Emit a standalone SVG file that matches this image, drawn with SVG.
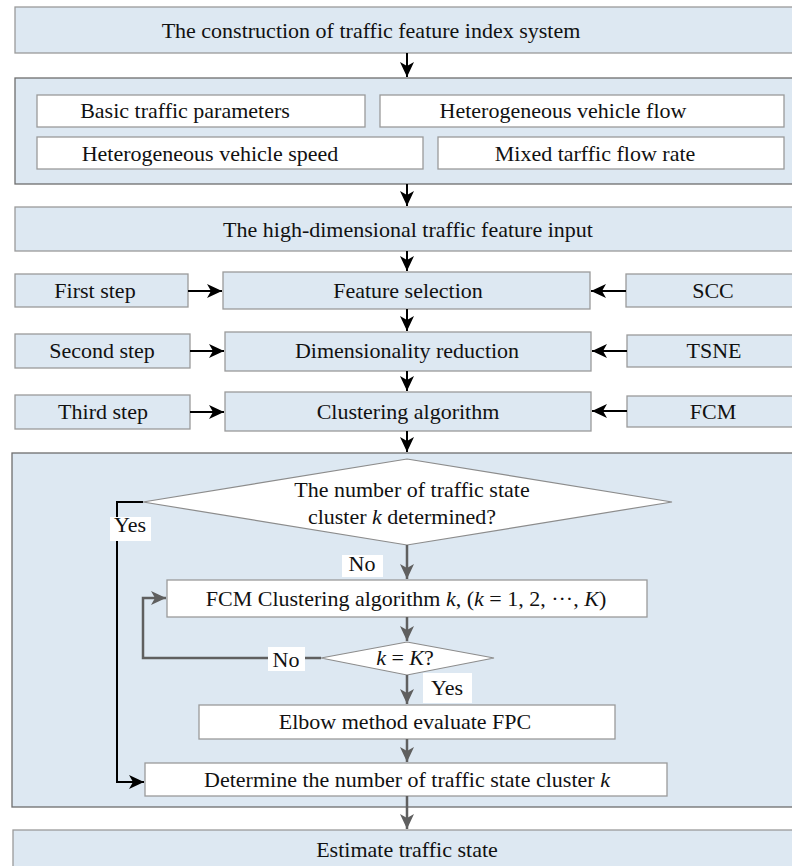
<svg xmlns="http://www.w3.org/2000/svg" width="792" height="866" viewBox="0 0 792 866">
<style>
text{font-family:"Liberation Serif","Times New Roman",serif;font-size:22px;fill:#111;text-anchor:middle}
.b{fill:#dde8f2;stroke:#9a9a9a;stroke-width:1.3}
.c{fill:#dde8f2;stroke:#6e6e6e;stroke-width:1.3}
.w{fill:#fff;stroke:#9a9a9a;stroke-width:1.3}
.k{stroke:#000;stroke-width:2;fill:none}
.g{stroke:#5f5f5f;stroke-width:2.5;fill:none}
.lab{fill:#fff;stroke:none}
</style>
<defs>
<marker id="ab" markerUnits="userSpaceOnUse" markerWidth="16" markerHeight="16" viewBox="0 0 16 16" refX="15" refY="8" orient="auto">
<path d="M0,1 L15,8 L0,15 L4,8 z" fill="#000"/>
</marker>
<marker id="ag" markerUnits="userSpaceOnUse" markerWidth="16" markerHeight="16" viewBox="0 0 16 16" refX="15" refY="8" orient="auto">
<path d="M0,1 L15,8 L0,15 L4,8 z" fill="#5f5f5f"/>
</marker>
</defs>

<g id="n_construction"><rect class="b" x="15" y="7" width="790" height="46"/><text x="371" y="38">The construction of traffic feature index system</text></g>

<g id="n_features"><rect class="c" x="15" y="78" width="790" height="106"/>
<g id="n_basic"><rect class="w" x="37" y="95" width="328" height="32"/><text x="185" y="118">Basic traffic parameters</text></g>
<g id="n_hflow"><rect class="w" x="380" y="95" width="404" height="32"/><text x="563" y="118">Heterogeneous vehicle flow</text></g>
<g id="n_hspeed"><rect class="w" x="37" y="137" width="386" height="32"/><text x="210" y="161">Heterogeneous vehicle speed</text></g>
<g id="n_mixed"><rect class="w" x="438" y="137" width="346" height="32"/><text x="595" y="161">Mixed tarffic flow rate</text></g>
</g>

<g id="n_input"><rect class="b" x="15" y="207" width="790" height="44"/><text x="408" y="237">The high-dimensional traffic feature input</text></g>

<g id="n_first"><rect class="b" x="15" y="274" width="173" height="33"/><text x="95" y="298">First step</text></g>
<g id="n_fsel"><rect class="b" x="223" y="272" width="367" height="37"/><text x="408" y="298">Feature selection</text></g>
<g id="n_scc"><rect class="b" x="626" y="274" width="180" height="33"/><text x="713" y="298">SCC</text></g>

<g id="n_second"><rect class="b" x="15" y="334" width="175" height="34"/><text x="102" y="358">Second step</text></g>
<g id="n_dim"><rect class="b" x="225" y="332" width="366" height="39"/><text x="407" y="358">Dimensionality reduction</text></g>
<g id="n_tsne"><rect class="b" x="627" y="335" width="180" height="32"/><text x="714" y="358">TSNE</text></g>

<g id="n_third"><rect class="b" x="15" y="395" width="175" height="34"/><text x="103" y="419">Third step</text></g>
<g id="n_clust"><rect class="b" x="225" y="392" width="366" height="39"/><text x="408" y="419">Clustering algorithm</text></g>
<g id="n_fcm"><rect class="b" x="627" y="396" width="180" height="31"/><text x="713" y="419">FCM</text></g>

<g id="n_kcontainer"><rect class="c" x="12" y="453" width="795" height="354"/></g>

<g id="n_dec1"><polygon points="407,459 672,502 407,545 143,502" fill="#fff" stroke="#8c8c8c" stroke-width="1.2"/>
<text x="412" y="497">The number of traffic state</text>
<text x="402" y="524">cluster <tspan font-style="italic">k</tspan> determined?</text></g>

<g id="n_fcmk"><rect class="w" x="167" y="580" width="480" height="37"/><text x="406" y="606">FCM Clustering algorithm <tspan font-style="italic">k</tspan>, (<tspan font-style="italic">k</tspan> = 1, 2, ···, <tspan font-style="italic">K</tspan>)</text></g>

<g id="n_dec2"><polygon points="407,642 494,658 407,675 321,658" fill="#fff" stroke="#8c8c8c" stroke-width="1.2"/>
<text x="405" y="665"><tspan font-style="italic">k</tspan> = <tspan font-style="italic">K</tspan>?</text></g>

<g id="n_elbow"><rect class="w" x="199" y="705" width="416" height="34"/><text x="405" y="729">Elbow method evaluate FPC</text></g>

<g id="n_determine"><rect class="w" x="145" y="763" width="522" height="33"/><text x="407" y="787">Determine the number of traffic state cluster <tspan font-style="italic">k</tspan></text></g>

<g id="n_estimate"><rect class="b" x="13" y="830" width="795" height="40"/><text x="407" y="857">Estimate traffic state</text></g>

<g id="connectors">
<path class="k" d="M407,53 V77" marker-end="url(#ab)"/>
<path class="k" d="M407,184 V206" marker-end="url(#ab)"/>
<path class="k" d="M407,251 V271" marker-end="url(#ab)"/>
<path class="k" d="M407,309 V331" marker-end="url(#ab)"/>
<path class="k" d="M407,371 V391" marker-end="url(#ab)"/>
<path class="k" d="M407,431 V452" marker-end="url(#ab)"/>
<path class="k" d="M188,291 H222" marker-end="url(#ab)"/>
<path class="k" d="M190,351 H224" marker-end="url(#ab)"/>
<path class="k" d="M190,412 H224" marker-end="url(#ab)"/>
<path class="k" d="M626,291 H591" marker-end="url(#ab)"/>
<path class="k" d="M627,351 H592" marker-end="url(#ab)"/>
<path class="k" d="M627,411 H592" marker-end="url(#ab)"/>
<path class="k" d="M143,502 H117 V782 H144" marker-end="url(#ab)"/>
<path class="g" d="M407,545 V579" marker-end="url(#ag)"/>
<path class="g" d="M407,617 V641" marker-end="url(#ag)"/>
<path class="g" d="M321,658 H143 V598 H166" marker-end="url(#ag)"/>
<path class="g" d="M407,675 V704" marker-end="url(#ag)"/>
<path class="g" d="M407,739 V762" marker-end="url(#ag)"/>
<path class="g" d="M407,796 V829" marker-end="url(#ag)"/>
<rect class="lab" x="110" y="517" width="41" height="24"/><text x="130" y="532">Yes</text>
<rect class="lab" x="342" y="555" width="41" height="22"/><text x="362" y="571">No</text>
<rect class="lab" x="268" y="647" width="37" height="24"/><text x="286" y="667">No</text>
<rect class="lab" x="423" y="673" width="49" height="30"/><text x="447" y="695">Yes</text>
</g>
</svg>
